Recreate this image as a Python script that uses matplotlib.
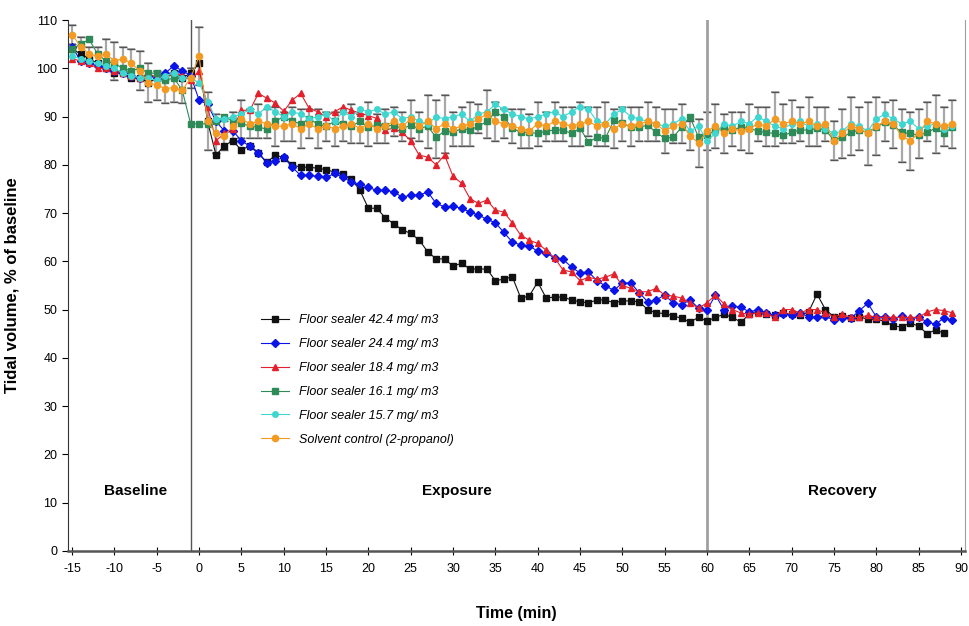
import numpy as np
import matplotlib
matplotlib.use("Agg")
import matplotlib.pyplot as plt

plt.rcParams['font.family'] = ['Liberation Sans', 'DejaVu Sans']
plt.rcParams['axes.unicode_minus'] = False

# time in minutes: baseline -15..-1, exposure 0..59, recovery 60..89
time_min = list(range(-15, 90))

black_424 = [104, 103, 102, 101, 100, 99, 99, 98, 98, 97, 98, 98, 99, 98, 99,
             101, 89, 82, 84, 85, 83, 84, 82.5, 80.5, 82, 81.5, 80, 79.5, 79.5, 79.3,
             79, 78.5, 78, 77, 74.7, 71, 71, 69, 67.8, 66.5, 65.8, 64.4, 62, 60.5, 60.5,
             59, 59.6, 58.4, 58.4, 58.4, 56, 56.3, 56.8, 52.4, 52.8, 55.7, 52.4, 52.6, 52.6, 52,
             51.6, 51.4, 52, 52, 51.4, 51.8, 51.8, 51.6, 50, 49.3, 49.2, 48.7, 48.2, 47.4, 48.4,
             47.6, 48.4, 49, 48.4, 47.4, 49, 49.5, 49, 48.8, 49.2, 49, 48.8, 49.5, 53.2, 50,
             48.5, 48.6, 48.2, 48.5, 48, 48, 47.6, 46.6, 46.4, 47.2, 46.6, 45, 45.8, 45.1, np.nan]

blue_244 = [104.5, 101.5, 101, 100.5, 100, 99.5, 99, 98.5, 98, 98.5, 98, 99, 100.5, 99.5, 98.5,
            93.4, 92.5, 89, 87, 87, 85, 83.8, 82.4, 80.4, 80.8, 81.6, 79.5, 77.8, 77.8, 77.6,
            77.4, 78.2, 77.4, 76.4, 76, 75.3, 74.7, 74.7, 74.4, 73.3, 73.7, 73.7, 74.4, 72, 71.3,
            71.4, 71, 70.2, 69.6, 68.7, 68, 66, 64, 63.4, 63.2, 62.1, 61.7, 60.7, 60.4, 58.8,
            57.6, 57.8, 56, 54.9, 54, 55.5, 55.5, 53.5, 51.6, 52, 53, 51.4, 51, 52, 50.3,
            49.9, 53, 50, 50.7, 50.5, 49.5, 50, 49.3, 48.8, 49, 48.9, 49.3, 48.5, 48.5, 48.6,
            47.8, 48.2, 48.2, 49.8, 51.3, 48.5, 48.5, 48, 48.6, 48, 48.5, 47.4, 47, 48.2, 47.8]

red_184 = [102, 101.5, 101, 100, 100, 99.5, 99, 98.5, 98, 99, 98, 98, 99, 98.5, 97.5,
           99.5, 92, 85, 86.5, 87.5, 91.3, 91.3, 94.8, 93.8, 92.8, 91.1, 93.4, 94.8, 91.7, 91,
           90, 91, 92, 91.3, 90.7, 90.2, 89.6, 87.2, 87.6, 86.7, 85, 82, 81.6, 80, 82,
           77.6, 76.2, 73, 72, 72.7, 70.6, 70.2, 68, 65.4, 64.4, 63.7, 62.3, 60.7, 58.2, 57.8,
           56, 56.7, 56.3, 56.7, 57.4, 55, 54.4, 53.7, 53.7, 54.4, 53, 52.8, 52.4, 51.4, 50.3,
           51.4, 53, 51.2, 50, 49.3, 49, 49.3, 49.3, 48.4, 50, 50, 49.3, 50, 50, 49.3,
           48.5, 49, 48.4, 48.4, 48.8, 48.4, 48.4, 48.4, 48.4, 48.4, 48.4, 49.5, 50, 49.8, 49.3]

green_161 = [104, 105, 106, 103, 101.5, 101, 100, 99.5, 100, 99, 99, 97.5, 98, 95.5, 88.5,
             88.5, 88.5, 89, 90, 89, 88.6, 88, 87.8, 87.4, 89, 90, 89, 88.5, 89.5, 88.5,
             88, 89, 88.5, 88, 89, 87.8, 88.2, 88, 88.2, 87.5, 88.2, 87.5, 88, 85.7, 87,
             86.7, 87.5, 87.2, 88, 89, 90.9, 89.9, 87.6, 86.7, 86.7, 86.5, 87, 87.2, 87.2, 86.5,
             87.6, 84.7, 85.7, 85.5, 89.2, 88.6, 87.8, 87.8, 88.2, 86.7, 85.5, 85.7, 87.8, 89.9, 85.7,
             86.1, 87.2, 87.6, 87.2, 87.8, 87.6, 87, 86.7, 86.5, 86.1, 86.7, 87.2, 87.2, 87.6, 87.2,
             85.1, 85.7, 86.7, 87.2, 86.7, 87.8, 88.8, 88.2, 86.7, 86.5, 86.1, 86.7, 87.6, 86.5, 87.8]

cyan_157 = [102.5, 102, 101.5, 101, 100.5, 100, 99, 98.5, 98, 98, 97.5, 98.5, 99, 98, 98,
            97, 93, 89.5, 89.5, 90, 90.5, 91.5, 90.5, 92, 91, 90, 91, 90.5, 89.5, 90,
            90.5, 89, 91, 90, 91.5, 91, 91.5, 90.5, 91, 89.5, 90, 89, 88.5, 90, 89.5,
            90, 90.5, 89, 90.5, 91, 92.5, 91.5, 90.5, 90, 89.5, 90, 90.5, 91, 90, 91,
            92, 91.5, 89, 88.5, 90.5, 91.5, 90, 89.5, 89, 88.5, 88, 88.5, 89.5, 87, 88,
            85, 86.5, 88.5, 88, 89, 88.5, 90, 89, 88, 87.5, 88.5, 89, 88, 88.5, 87.5,
            86.5, 87, 88.5, 88, 87, 89.5, 90.5, 89.5, 88.5, 89, 87.5, 88, 88.5, 87.5, 88]

solvent = [107, 104.5, 103, 102.5, 103, 101.5, 102, 101, 99.5, 97, 96.5, 95.8, 96, 95.4, 98,
           102.5, 89, 86.5, 86, 88, 89.5, 88.5, 89, 88.5, 88, 88, 88.5, 87.5, 88.5, 87.5,
           88, 87.5, 88, 88.5, 87.5, 88.5, 87.5, 88, 89, 88, 89.5, 88, 89, 87.5, 88.5,
           87.5, 88, 88.5, 89.5, 90.5, 89, 88.5, 88, 87.5, 87, 88.5, 88, 89, 88.5, 88,
           88.5, 89, 88, 88.5, 87.5, 88.5, 88, 88.5, 89, 88.5, 87, 88, 88.5, 86, 84.5,
           87, 88, 86.5, 87.5, 87, 87.5, 88.5, 88, 89.5, 88.5, 89, 88.5, 89, 88, 88.5,
           85, 86.5, 88, 87.5, 86.5, 88, 89, 88.5, 86, 85, 86.5, 89, 88.5, 88, 88.5]

solvent_err = [2, 2, 1.5, 2, 3, 4, 2.5, 3, 4, 4, 3, 3, 3, 2.5, 2,
               6, 6, 4, 3, 3, 4, 3, 3.5, 3, 4, 3, 3.5, 4, 3, 4,
               3, 3.5, 3, 4, 3, 4.5, 3, 3.5, 3, 3, 4, 3, 5.5, 6, 6,
               3.5, 4, 4.5, 3, 5, 4, 3, 3.5, 4, 3.5, 4.5, 3, 4, 3.5, 4,
               4.5, 3, 4, 4.5, 4, 3.5, 4, 3.5, 4, 3.5, 4.5, 3.5, 4, 3, 5,
               4, 4.5, 4, 3.5, 4, 5, 3.5, 4, 5.5, 4, 4.5, 3.5, 5, 4, 3.5,
               4, 5, 6, 4.5, 6.5, 6, 4, 5, 5.5, 6, 5, 4, 6, 4, 5]

series_labels = ['Floor sealer 42.4 mg/ m3', 'Floor sealer 24.4 mg/ m3', 'Floor sealer 18.4 mg/ m3',
                 'Floor sealer 16.1 mg/ m3', 'Floor sealer 15.7 mg/ m3', 'Solvent control (2-propanol)']
phase_labels = ['Baseline', 'Exposure', 'Recovery']
phase_x = [-7.5, 30.5, 76]

fig = plt.figure(figsize=(9.7, 6.26), dpi=100)
ax = fig.add_axes([0.070, 0.12, 0.925, 0.848])

# error bars of the control sit behind everything
ax.errorbar(time_min, solvent, yerr=solvent_err, fmt='none', ecolor='#a8a8a8',
            elinewidth=1.6, capsize=3, capthick=1.2, zorder=1)
# dark caps
err_lo = np.array(solvent) - np.array(solvent_err)
err_hi = np.array(solvent) + np.array(solvent_err)
ax.plot(time_min, err_lo, linestyle='none', marker='_', markersize=6, color='#555555', zorder=1)
ax.plot(time_min, err_hi, linestyle='none', marker='_', markersize=6, color='#555555', zorder=1)

styles = [
    (black_424, '#111111', 's', 4.5),
    (blue_244, '#0a14e6', 'D', 4.5),
    (red_184, '#e3202b', '^', 5),
    (green_161, '#2e8b57', 's', 5),
    (cyan_157, '#3fd6d0', 'o', 4),
    (solvent, '#f29a22', 'o', 4.5),
]
for (vals, col, mk, ms), lab in zip(styles, series_labels):
    ax.plot(time_min, vals, color=col, marker=mk, markersize=ms, linewidth=0.8,
            label=lab, zorder=3)

ax.axvline(-1, color='#555555', linewidth=1.0, zorder=2)
ax.axvline(60, color='#a0a0a0', linewidth=2.0, zorder=2)

for lab, xp in zip(phase_labels, phase_x):
    ax.text(xp, 12.5, lab, ha='center', va='center', fontsize=11, fontweight='bold')

ax.set_xlim(-15.5, 90.5)
ax.set_ylim(0, 110)
ax.set_xticks(range(-15, 91, 5))
ax.set_yticks(range(0, 111, 10))
ax.tick_params(axis='x', direction='inout', length=6, labelsize=9, pad=6)
ax.tick_params(axis='y', direction='out', length=4, labelsize=9)

ax.spines['top'].set_visible(False)
ax.spines['right'].set_color('#a0a0a0')
ax.spines['bottom'].set_linewidth(1.8)
ax.spines['bottom'].set_color('#555555')
ax.spines['left'].set_color('#333333')

ax.set_xlabel('Time (min)', fontsize=11.5, fontweight='bold', labelpad=22)
ax.set_ylabel('Tidal volume, % of baseline', fontsize=12, fontweight='bold', labelpad=12)

leg = ax.legend(loc='upper left', bbox_to_anchor=(0.21, 0.455), frameon=False,
                prop={'style': 'italic', 'size': 9}, handlelength=2.2, labelspacing=0.95,
                borderaxespad=0)

fig.savefig('out.png', dpi=100)
